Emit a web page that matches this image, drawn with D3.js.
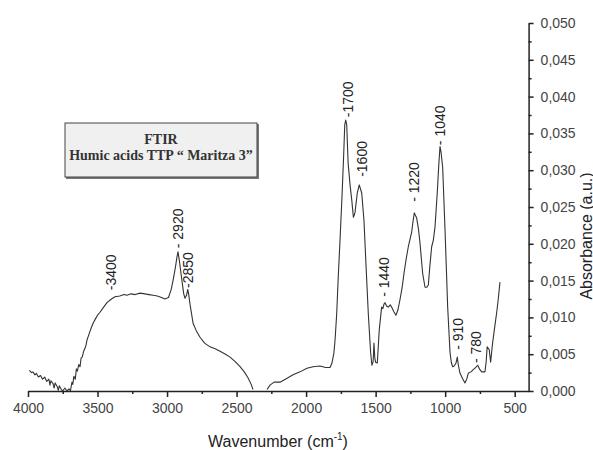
<!DOCTYPE html>
<html>
<head>
<meta charset="utf-8">
<script src="https://cdn.jsdelivr.net/npm/d3@7"></script>
<style>
  html, body { margin: 0; padding: 0; background: #fff; }
  svg { display: block; }
</style>
</head>
<body>
<svg id="chart" width="593" height="450"></svg>
<script>
// ---- DATA ----
const wavenumber = [
  3990,3975,3965,3950,3940,3925,3910,3895,3880,3865,3850,3842,3835,3820,3812,3805,3790,3782,3775,3760,3750,3735,3720,3705,3695,
  3684,3678,3670,3660,3652,3645,3635,3626,3618,3610,3600,3590,3582,3576,3560,3545,3532,3515,3500,3482,3460,3432,3400,3374,3340,3310,
  3288,3260,3230,3194,3160,3130,3101,3070,3040,3015,2990,2970,2957,2940,2928,2921,2910,2900,2893,2880,2871,2860,
  2851,2845,2835,2828,2813,2790,2763,2730,2691,2650,2619,2580,2547,2510,2475,2445,2418,2395,2382,
  2330,
  2281,2260,2230,2188,2140,2094,2044,1994,1950,1900,1860,1828,1814,1800,1792,1780,1770,1755,1742,1730,1722,1715,
  1708,1698,1684,1672,1660,1652,1648,1632,1618,1600,1584,1570,1553,1536,1527,1518,1512,1506,1500,1488,1474,1457,
  1448,1440,1433,1420,1409,1395,1385,1370,1354,1340,1325,1310,1296,1280,1265,1241,1230,1222,1205,1192,1181,1162,
  1145,1132,1121,1110,1097,1085,1073,1057,1045,1037,1030,1018,1001,982,965,955,946,935,922,913,905,893,875,858,
  845,834,815,798,780,766,750,737,714,705,698,683,673,659,645,630,618,606
];
const absorbance = [
  0.0028,0.0025,0.0026,0.0022,0.0024,0.0019,0.0021,0.0016,0.0019,0.0013,0.0016,0.0008,0.0014,0.0010,0.0004,0.0011,0.0006,0.0001,0.0007,0.0002,0.0000,0.0004,0.0000,0.0003,0.0000,
  0.0012,0.0009,0.0020,0.0016,0.0030,0.0027,0.0036,0.0033,0.0045,0.0046,0.0054,0.0058,0.0063,0.0069,0.0078,0.0086,0.0092,0.0098,0.0103,0.0107,0.0113,0.0120,0.0125,0.0128,0.0129,0.0131,
  0.0130,0.0132,0.0131,0.0133,0.0132,0.0131,0.0130,0.0129,0.0127,0.0125,0.0127,0.0138,0.0150,0.0168,0.0183,0.0189,0.0175,0.0160,0.0150,0.0132,0.0126,0.0130,
  0.0138,0.0132,0.0118,0.0110,0.0092,0.0082,0.0073,0.0065,0.0060,0.0057,0.0054,0.0050,0.0046,0.0040,0.0033,0.0026,0.0018,0.0009,0.0002,
  null,
  0.0002,0.0008,0.0012,0.0012,0.0017,0.0022,0.0026,0.0031,0.0033,0.0034,0.0032,0.0032,0.0038,0.0052,0.0069,0.0105,0.0150,0.0210,0.0264,0.0320,0.0362,0.0368,
  0.0362,0.0310,0.0280,0.0260,0.0236,0.0240,0.0243,0.0269,0.0280,0.0269,0.0232,0.0174,0.0106,0.0052,0.0035,0.0040,0.0065,0.0045,0.0039,0.0038,0.0083,0.0114,
  0.0112,0.0118,0.0120,0.0115,0.0114,0.0117,0.0114,0.0108,0.0103,0.0110,0.0124,0.0140,0.0160,0.0180,0.0196,0.0216,0.0232,0.0242,0.0235,0.0220,0.0201,0.0160,
  0.0141,0.0141,0.0144,0.0170,0.0196,0.0205,0.0223,0.0269,0.0310,0.0332,0.0325,0.0304,0.0219,0.0114,0.0052,0.0038,0.0033,0.0034,0.0038,0.0046,0.0035,0.0024,0.0017,0.0011,
  0.0016,0.0024,0.0026,0.0029,0.0032,0.0035,0.0029,0.0026,0.0026,0.0040,0.0060,0.0056,0.0039,0.0065,0.0085,0.0106,0.0125,0.0148
];
const xTickValues = [4000, 3500, 3000, 2500, 2000, 1500, 1000, 500];
const yTickValues = [0, 0.005, 0.010, 0.015, 0.020, 0.025, 0.030, 0.035, 0.040, 0.045, 0.050];
const peakLabels = ["-3400", "- 2920", "-2850", "-1700", "-1600", "- 1440", "- 1220", "- 1040", "- 910", "- 780"];
const peakWavenumber = [3400, 2920, 2850, 1700, 1600, 1440, 1220, 1040, 910, 780];
const peakLabelBase = [0.0137, 0.0194, 0.0140, 0.0372, 0.0291, 0.0128, 0.0257, 0.0334, 0.0056, 0.0038];
const legendLines = ["FTIR", "Humic acids TTP \u201C Maritza 3\u201D"];

// ---- CHART ----
const svg = d3.select("#chart");
const sans = "'Liberation Sans', Arial, sans-serif";
const x = d3.scaleLinear().domain([4000, 400]).range([28, 528.6]);
const y = d3.scaleLinear().domain([0, 0.05]).range([391, 23]);

const pts = wavenumber.map((w, i) => ({ w, a: absorbance[i] }));
const line = d3.line()
  .defined(d => d.a !== null)
  .x(d => x(d.w)).y(d => y(d.a));
svg.append("path").datum(pts)
  .attr("d", line)
  .attr("fill", "none")
  .attr("stroke", "#333")
  .attr("stroke-width", 1.1)
  .attr("stroke-linejoin", "round");

// X axis
const xMinor = d3.range(3750, 400, -500);
const gx = svg.append("g").attr("transform", `translate(0,${y(0)})`);
gx.call(d3.axisBottom(x).tickValues(xTickValues).tickSize(6).tickSizeOuter(0).tickPadding(6).tickFormat(d3.format("d")));
const gxm = svg.append("g").attr("transform", `translate(0,${y(0)})`);
gxm.call(d3.axisBottom(x).tickValues(xMinor).tickSize(3).tickSizeOuter(0).tickFormat(""));
gxm.select(".domain").remove();

// Y axis (right)
const yMinor = d3.range(0.0025, 0.05, 0.005);
const fmtY = d => d.toFixed(3).replace(".", ",");
const gy = svg.append("g").attr("transform", `translate(${x(400)},0)`);
gy.call(d3.axisRight(y).tickValues(yTickValues).tickSize(5).tickSizeOuter(0).tickPadding(7).tickFormat(fmtY));
const gym = svg.append("g").attr("transform", `translate(${x(400)},0)`);
gym.call(d3.axisRight(y).tickValues(yMinor).tickSize(3).tickSizeOuter(0).tickFormat(""));
gym.select(".domain").remove();

svg.selectAll(".domain, .tick line").attr("stroke", "#222").attr("stroke-width", 1.5);
svg.selectAll(".tick text").attr("font-family", sans).attr("font-size", 14).attr("fill", "#444");

// Axis titles
const xt = svg.append("text")
  .attr("x", 278).attr("y", 446.5)
  .attr("text-anchor", "middle")
  .attr("font-family", sans).attr("font-size", 16).attr("fill", "#222");
xt.append("tspan").text("Wavenumber (cm");
xt.append("tspan").attr("font-size", 10).attr("dy", -7).text("-1");
xt.append("tspan").attr("dy", 7).text(")");

svg.append("text")
  .attr("transform", `translate(586,236) rotate(-90)`)
  .attr("text-anchor", "middle")
  .attr("dominant-baseline", "central")
  .attr("font-family", sans).attr("font-size", 16).attr("fill", "#222")
  .text("Absorbance (a.u.)");

// Peak labels
svg.append("g").selectAll("text")
  .data(peakLabels)
  .join("text")
  .attr("transform", (d, i) => `translate(${x(peakWavenumber[i])},${y(peakLabelBase[i])}) rotate(-90)`)
  .attr("text-anchor", "start")
  .attr("dy", "0.35em")
  .attr("font-family", sans).attr("font-size", 14).attr("fill", "#222")
  .text(d => d);

// Legend box
const lg = svg.append("g");
lg.append("rect").attr("x", 66).attr("y", 124).attr("width", 193).attr("height", 55).attr("fill", "#777");
lg.append("rect").attr("x", 65).attr("y", 123).attr("width", 192).attr("height", 54)
  .attr("fill", "#f0f0f0").attr("stroke", "#444").attr("stroke-width", 1);
lg.selectAll("text.lt").data(legendLines).join("text")
  .attr("class", "lt")
  .attr("x", 161).attr("y", (d, i) => 143.5 + i * 16)
  .attr("text-anchor", "middle")
  .attr("font-family", "'Liberation Serif', 'Times New Roman', serif")
  .attr("font-weight", "bold").attr("font-size", 14).attr("fill", "#333")
  .text(d => d);
</script>
</body>
</html>
